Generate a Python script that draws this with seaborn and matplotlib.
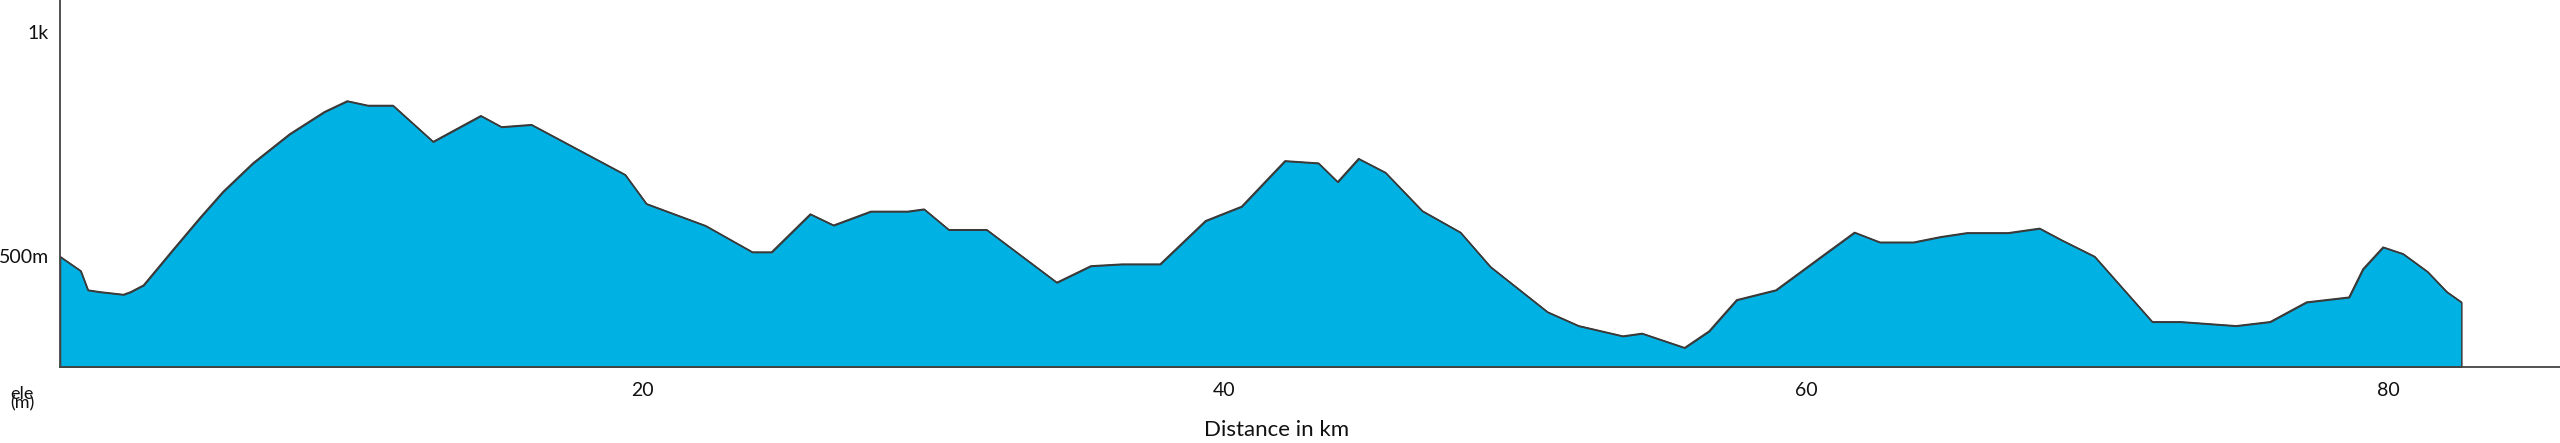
import matplotlib
matplotlib.use("Agg")
import matplotlib.pyplot as plt
import matplotlib.transforms as mtransforms
import seaborn as sns
import pandas as pd

# ---- data ----
km = [0, 0.71, 0.96, 1.36, 2.18, 2.43, 2.87, 3.88, 4.80, 5.60, 6.63, 7.89, 9.09, 9.87,
      10.58, 11.44, 12.82, 14.46, 15.17, 16.2, 19.42, 20.15, 22.18, 23.79, 24.45, 25.78,
      26.58, 27.86, 29.13, 29.69, 30.54, 31.84, 34.25, 35.42, 36.49, 37.8, 39.36, 40.6,
      42.09, 43.24, 43.9, 44.62, 45.54, 46.81, 48.12, 49.15, 51.11, 52.18, 53.7, 54.36,
      55.82, 56.66, 57.61, 58.96, 60.61, 61.66, 62.53, 63.69, 64.61, 65.53, 66.94, 68.02,
      68.77, 69.91, 71.89, 72.86, 74.77, 75.94, 77.19, 78.65, 79.13, 79.82, 80.51, 81.35,
      82.01, 82.51]
ele = [489, 457, 414, 410, 404, 410, 425, 504, 575, 634, 698, 763, 813, 837, 827, 827,
       746, 804, 779, 784, 672, 607, 558, 499, 499, 584, 559, 590, 590, 595, 549, 549,
       431, 468, 472, 472, 569, 601, 703, 698, 656, 708, 677, 591, 543, 466, 365, 334,
       311, 317, 285, 322, 392, 414, 493, 543, 521, 521, 533, 542, 542, 552, 526, 489,
       343, 343, 334, 343, 387, 398, 461, 510, 495, 455, 410, 387]
x_ticks = [20, 40, 60, 80]
x_tick_labels = ["20", "40", "60", "80"]
y_ticks = [500, 731, 1000]
y_tick_labels = ["500m", "", "1k"]
x_label = "Distance in km"
y_label = "ele\n(m)"

df = pd.DataFrame({"km": km, "ele": ele})

sns.set_theme(style="white")
plt.rcParams["font.family"] = ["Lato", "DejaVu Sans"]

FILL = "#00b2e3"
EDGE = "#3a3a3a"
AXC = "#444444"

fig = plt.figure(figsize=(25.6, 4.43), dpi=100)
ax = fig.add_axes([60 / 2560, 1 - 366.7 / 443, 1 - 60 / 2560, 366.7 / 443])

ymin, ymax = 242.6, 1063
ax.fill_between(df["km"], df["ele"], ymin, facecolor=FILL, edgecolor=EDGE, linewidth=1.1)
sns.lineplot(data=df, x="km", y="ele", ax=ax, color=EDGE, linewidth=1.1, sort=True)

ax.set_xlim(0, 85.9)
ax.set_ylim(ymin, ymax)

for s in ["top", "right"]:
    ax.spines[s].set_visible(False)
for s in ["left", "bottom"]:
    ax.spines[s].set_color(AXC)
    ax.spines[s].set_linewidth(1.3)

ax.set_xticks(x_ticks)
ax.set_xticklabels(x_tick_labels)
ax.set_yticks(y_ticks)
ax.set_yticklabels(y_tick_labels)
ax.tick_params(axis="x", length=7, width=1.1, color=AXC, pad=4, labelsize=14, labelcolor="#111111")
ax.tick_params(axis="y", length=7, width=1.1, color=AXC, pad=1, labelsize=14, labelcolor="#111111")
offset = mtransforms.ScaledTranslation(0, -4 / 100, fig.dpi_scale_trans)
for lbl in ax.get_yticklabels():
    lbl.set_transform(lbl.get_transform() + offset)
ax.set_xlabel("")
ax.set_ylabel("")

fig.text(1276.5 / 2560, 1 - 430 / 443, x_label, ha="center", va="center", fontsize=16, color="#111111")
fig.text(22 / 2560, 1 - 399 / 443, y_label, ha="center", va="center", fontsize=13,
         color="#111111", linespacing=0.5)

fig.savefig("out.png", dpi=100)
